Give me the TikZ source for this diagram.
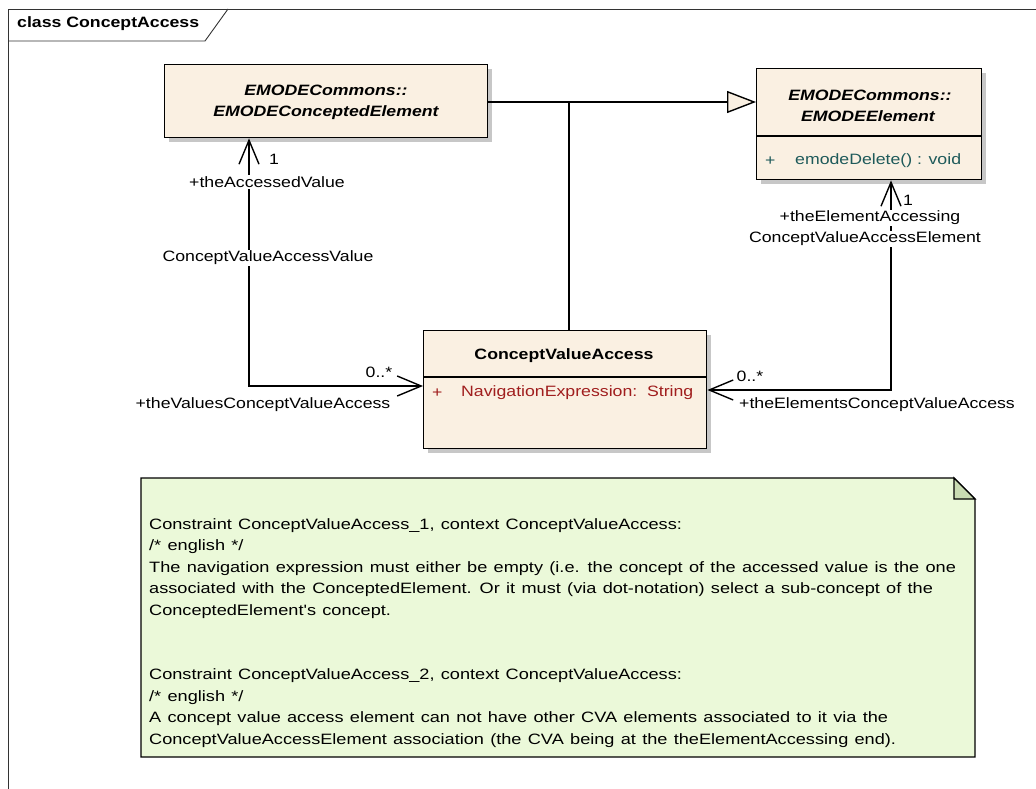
\documentclass[tikz,border=0pt]{standalone}
\usepackage{fontspec}
\setmainfont[FakeStretch=1.18]{Liberation Sans}
\newfontfamily\notefamily[FakeStretch=1.21, WordSpace=1.25]{Liberation Sans}
\usetikzlibrary{arrows.meta,shadows}
\definecolor{classfill}{RGB}{250,240,226}
\definecolor{notefill}{RGB}{235,249,217}
\definecolor{foldfill}{RGB}{201,219,178}
\definecolor{attrred}{RGB}{160,30,30}
\definecolor{opteal}{RGB}{30,90,90}
\begin{document}
\begin{tikzpicture}[x=1pt,y=-1pt,
  font=\fontsize{15}{21.5}\selectfont,
  classbox/.style={draw=black, line width=1.4pt, fill=classfill,
    drop shadow={shadow xshift=4pt,shadow yshift=-4pt,fill=black!22,opacity=1},
    anchor=north west, inner sep=0pt},
  lbl/.style={inner sep=1pt},
  wlbl/.style={fill=white, inner sep=1pt},
  conn/.style={line width=1.4pt},
  assoc/.style={conn, {Straight Barb[length=24pt,width=20pt]}-{Straight Barb[length=24pt,width=20pt]}},
  gen/.style={conn, -{Triangle[length=29pt,width=22pt,fill=classfill]}},
  sep/.style={line width=1.2pt}
]
\path[use as bounding box] (0,0) rectangle (1036,789);

% diagram frame with its name tab
\draw[line width=0.9pt, black!80] (8,789) -- (8,9) -- (1036,9);
\draw[line width=0.9pt, black!80] (8,41) -- (205,41) -- (228,9);
\node[lbl, anchor=west, font=\fontsize{15}{18}\selectfont\bfseries] (frametitle) at (16,24) {class ConceptAccess};

% classes
\node[classbox, minimum width=323pt, minimum height=73pt] (ce) at (164,64) {};
\node[lbl, font=\fontsize{15}{18}\selectfont\bfseries\itshape] (ceA) at (326,90) {EMODECommons::};
\node[lbl, font=\fontsize{15}{18}\selectfont\bfseries\itshape] (ceB) at (326,113) {EMODEConceptedElement};

\node[classbox, minimum width=225pt, minimum height=111pt] (ee) at (756,68) {};
\coordinate (eesep) at (0,136);
\draw[sep] (ee.west |- eesep) -- (ee.east |- eesep);
\node[lbl, font=\fontsize{15}{18}\selectfont\bfseries\itshape] (eeA) at (870,95) {EMODECommons::};
\node[lbl, font=\fontsize{15}{18}\selectfont\bfseries\itshape] (eeB) at (868,116) {EMODEElement};
\node[lbl, text=opteal, anchor=west] (eeP) at (764,161) {+};
\node[lbl, text=opteal, anchor=west] (eeOp) at (794,161) {emodeDelete() : void};

\node[classbox, minimum width=283pt, minimum height=118pt] (cva) at (423,330) {};
\coordinate (cvasep) at (0,377);
\draw[sep] (cva.west |- cvasep) -- (cva.east |- cvasep);
\node[lbl, font=\fontsize{15}{18}\selectfont\bfseries] (cvaT) at (564,356) {ConceptValueAccess};
\node[lbl, text=attrred, anchor=west] (cvaP) at (431,393) {+};
\node[lbl, text=attrred, anchor=west] (cvaAttr) at (460,393) {NavigationExpression:\ \ String};

% generalization from both classes to EMODEElement
\coordinate (gy) at (0,102);
\coordinate (jx) at (569,0);
\draw[conn] (cva.north -| jx) -- (jx |- gy);
\draw[gen] (ce.east |- gy) -- (ee.west |- gy);

% associations
\coordinate (la) at (249,386);
\coordinate (ra) at (891,390);
\draw[assoc] (cva.west |- la) -| (ce.south -| la);
\draw[assoc] (cva.east |- ra) -| (ee.south -| ra);

% association end labels
\node[lbl] (m1) at (274,159) {1};
\node[wlbl] (r1) at (267,182) {+theAccessedValue};
\node[wlbl] (n1) at (268,258) {ConceptValueAccessValue};
\node[lbl] (m2) at (379,372) {0..*};
\node[lbl] (r2) at (263,405) {+theValuesConceptValueAccess};

\node[lbl] (m3) at (908,200) {1};
\node[wlbl] (r3) at (870,218) {+theElementAccessing};
\node[wlbl] (n2) at (865,239) {ConceptValueAccessElement};
\node[lbl] (m4) at (750,376) {0..*};
\node[lbl] (r4) at (877,405) {+theElementsConceptValueAccess};

% constraint note
\coordinate (nA) at (141,478);
\coordinate (nB) at (954,478);
\coordinate (nC) at (975,499);
\coordinate (nD) at (975,757);
\coordinate (nE) at (141,757);
\draw[line width=1.4pt, fill=notefill] (nA) -- (nB) -- (nC) -- (nD) -- (nE) -- cycle;
\draw[line width=1.4pt, fill=foldfill] (nB) -- (nB |- nC) -- (nC) -- cycle;
\node[lbl, anchor=north west, align=left,
      font=\notefamily\fontsize{15}{21.5}\selectfont] (notetext) at (148,517) {%
Constraint ConceptValueAccess\_1, context ConceptValueAccess:\\
/* english */\\
The navigation expression must either be empty (i.e. the concept of the accessed value is the one\\
associated with the ConceptedElement. Or it must (via dot-notation) select a sub-concept of the\\
ConceptedElement's concept.\\
\mbox{}\\
\mbox{}\\
Constraint ConceptValueAccess\_2, context ConceptValueAccess:\\
/* english */\\
A concept value access element can not have other CVA elements associated to it via the\\
ConceptValueAccessElement association (the CVA being at the theElementAccessing end).};
\end{tikzpicture}
\end{document}
